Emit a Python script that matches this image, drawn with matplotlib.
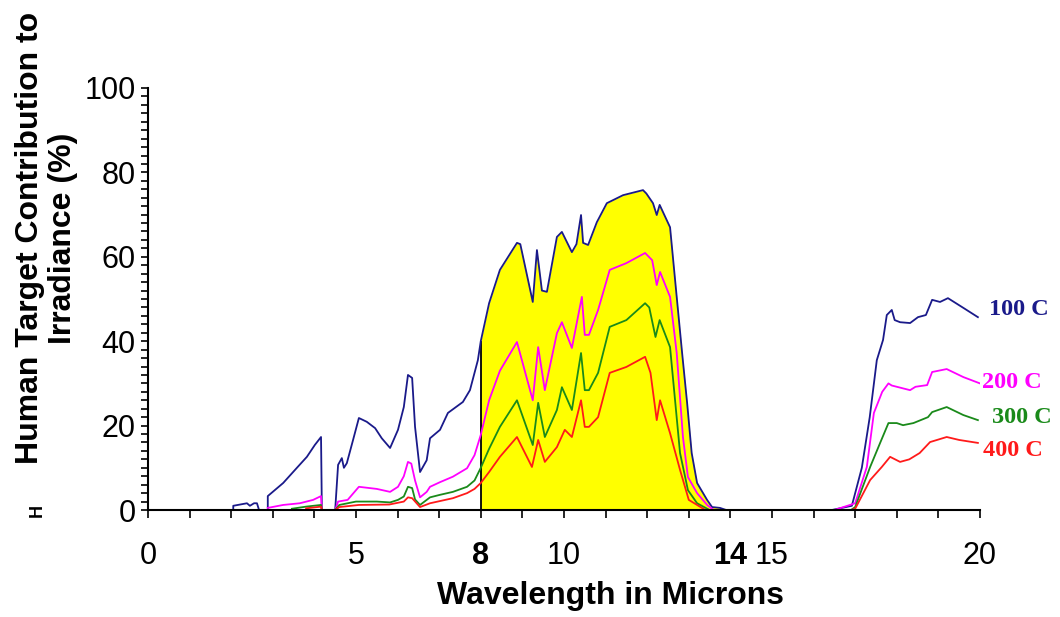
import numpy as np
import matplotlib
matplotlib.use('Agg')
import matplotlib.pyplot as plt

plt.rcParams['font.family'] = ['Liberation Sans', 'DejaVu Sans']

nan = np.nan

# 100 C target
wl_100 = [1.8, 2.05, 2.05, 2.38, 2.45, 2.55, 2.62, 2.67, nan,
          2.88, 2.88, 3.25, 3.58, 3.82, 4.01, 4.16, 4.18, nan,
          4.5, 4.57, 4.66, 4.71, 4.78, 4.93, 5.07, 5.26, 5.46, 5.62, 5.82, 6.01, 6.15, 6.25, 6.35, 6.42,
          6.54, 6.7, 6.78, 7.02, 7.21, 7.57, 7.74, 7.93, 8.0,
          8.2, 8.46, 8.87, 8.95, 9.25, 9.35, 9.47, 9.59, 9.83, 9.95, 10.19, 10.3, 10.41, 10.46, 10.58,
          10.79, 11.03, 11.42, 11.9, 11.98, 12.14, 12.23, 12.3, 12.55, 12.71, 12.84, 12.96, 13.07,
          13.2, 13.44, 13.56, 13.75, 13.9, nan,
          16.44, 16.92, 17.16, 17.35, 17.52, 17.67, 17.76, 17.88, 17.95, 18.08, 18.32, 18.51, 18.7,
          18.85, 19.04, 19.23, 19.6, 19.95]
irr_100 = [0, 0, 1.0, 1.6, 1.0, 1.6, 1.6, 0, nan,
           0, 3.3, 6.4, 10.0, 12.6, 15.4, 17.3, 0, nan,
           0, 10.7, 12.3, 10.0, 11.1, 16.6, 21.8, 20.9, 19.4, 17.0, 14.7, 19.0, 24.4, 32.0, 31.3, 19.7,
           9.0, 11.8, 17.0, 19.0, 23.0, 25.6, 28.4, 35.5, 40.0,
           49.0, 56.9, 63.3, 63.0, 49.3, 61.6, 52.0, 51.7, 64.7, 65.9, 61.1, 63.0, 69.9, 63.3, 62.8,
           68.2, 72.7, 74.6, 75.8, 75.0, 72.7, 69.9, 72.3, 67.0, 50.5, 37.2, 25.4, 13.5,
           6.4, 2.4, 0.7, 0.5, 0, nan,
           0, 1.0, 10.0, 22.0, 35.5, 40.3, 46.2, 47.4, 45.0, 44.5, 44.3, 45.7, 46.2,
           49.8, 49.3, 50.2, 47.9, 45.7]

# 200 C target
wl_200 = [2.88, 3.25, 3.65, 3.97, 4.16, 4.18, nan,
          4.5, 4.57, 4.8, 5.07, 5.5, 5.82, 6.01, 6.15, 6.25, 6.33, 6.42, 6.54, 6.7, 6.78, 7.02,
          7.33, 7.67, 7.85, 8.0,
          8.2, 8.46, 8.87, 9.25, 9.38, 9.54, 9.83, 9.95, 10.19, 10.43, 10.5, 10.6, 10.82, 11.1, 11.5,
          11.95, 12.12, 12.23, 12.31, 12.55, 12.71, 12.86, 12.98, 13.2, 13.44, 13.6, nan,
          16.5, 17.0, 17.28, 17.45, 17.65, 17.8, 17.88, 18.08, 18.32, 18.45, 18.73, 18.85, 19.2,
          19.6, 20.0]
irr_200 = [0.5, 1.2, 1.6, 2.4, 3.3, 0, nan,
           0, 2.0, 2.4, 5.5, 5.0, 4.3, 5.5, 8.0, 11.4, 11.0, 7.0, 3.0, 4.3, 5.5, 6.6,
           7.9, 9.9, 13.0, 17.8,
           26.0, 33.0, 39.8, 26.0, 38.6, 28.4, 41.9, 44.5, 38.4, 50.5, 41.5, 41.5, 47.4, 56.9, 58.5,
           60.9, 59.2, 53.3, 56.4, 50.5, 37.2, 17.3, 7.8, 4.0, 1.2, 0, nan,
           0, 1.6, 10.2, 23.0, 28.0, 30.0, 29.5, 29.0, 28.4, 29.2, 29.6, 32.7, 33.4,
           31.5, 30.0]

# 300 C target
wl_300 = [3.46, 3.8, 4.16, 4.18, nan,
          4.5, 4.6, 5.0, 5.5, 5.82, 6.01, 6.15, 6.25, 6.35, 6.42, 6.54, 6.78, 7.02, 7.33, 7.67,
          7.85, 8.0,
          8.2, 8.46, 8.87, 9.25, 9.38, 9.54, 9.83, 9.95, 10.19, 10.41, 10.5, 10.6, 10.82, 11.1, 11.5,
          11.95, 12.05, 12.2, 12.3, 12.55, 12.79, 12.98, 13.2, 13.5, nan,
          16.9, 17.0, 17.36, 17.6, 17.8, 18.0, 18.15, 18.4, 18.75, 18.85, 19.2, 19.6, 19.95]
irr_300 = [0.3, 0.8, 1.2, 0, nan,
           0, 1.2, 2.0, 2.0, 1.8, 2.4, 3.2, 5.5, 5.2, 2.5, 1.2, 3.0, 3.6, 4.3, 5.5,
           7.0, 10.0,
           14.5, 19.7, 26.0, 15.4, 25.4, 17.3, 23.7, 29.1, 23.7, 37.2, 28.4, 28.4, 32.5, 43.4, 45.0,
           49.0, 48.0, 41.0, 45.0, 38.6, 13.5, 4.7, 1.6, 0, nan,
           0, 0.7, 10.2, 15.9, 20.6, 20.6, 20.1, 20.6, 22.0, 23.2, 24.4, 22.5, 21.3]

# 400 C target
wl_400 = [3.8, 4.16, 4.18, nan,
          4.5, 4.6, 5.07, 5.8, 6.15, 6.25, 6.35, 6.54, 6.78, 7.33, 7.67, 7.85, 8.0,
          8.2, 8.46, 8.87, 9.23, 9.38, 9.54, 9.83, 10.02, 10.19, 10.41, 10.5, 10.6, 10.82, 11.1,
          11.5, 11.95, 12.08, 12.23, 12.31, 12.55, 12.79, 13.0, 13.4, nan,
          16.9, 17.0, 17.36, 17.64, 17.84, 18.08, 18.3, 18.55, 18.8, 19.2, 19.5, 19.95]
irr_400 = [0.4, 0.8, 0, nan,
           0, 0.7, 1.2, 1.3, 2.0, 3.0, 2.8, 0.7, 1.6, 2.8, 4.0, 5.0, 6.4,
           9.0, 12.6, 17.3, 10.2, 16.6, 11.4, 14.9, 19.0, 17.3, 26.0, 19.7, 19.7, 22.0, 32.5,
           33.9, 36.3, 32.5, 21.3, 26.0, 18.2, 9.5, 2.4, 0, nan,
           0, 0.3, 7.1, 10.2, 12.6, 11.4, 12.0, 13.5, 16.1, 17.3, 16.6, 15.9]

series_labels = ['100 C', '200 C', '300 C', '400 C']
series_colors = ['#1a1a8a', '#ff00ff', '#1a8a1a', '#ff1a1a']
label_pos = [(20.22, 47.6), (20.05, 30.3), (20.29, 22.0), (20.07, 14.2)]

band_lo = 8.0

xtick_vals = [0, 5, 8, 10, 14, 15, 20]
ytick_vals = [0, 20, 40, 60, 80, 100]

fig = plt.figure(figsize=(10.6, 6.17), dpi=100)
ax = fig.add_axes([0.1396, 0.1734, 0.7849, 0.684])

# yellow band under the 100 C curve, from 8 microns to where it dies out
w = np.array(wl_100, dtype=float)
r = np.array(irr_100, dtype=float)
band = (w >= band_lo) & (w <= 13.9)
ax.fill_between(w[band], 0, r[band], color='#ffff00', lw=0, zorder=1)
ax.vlines(band_lo, 0, r[band][0], color='black', lw=1.3, zorder=2)

for wl, irr, c in zip([wl_100, wl_200, wl_300, wl_400],
                      [irr_100, irr_200, irr_300, irr_400], series_colors):
    ax.plot(wl, irr, color=c, lw=1.3, zorder=3)

for (lx, ly), lab, c in zip(label_pos, series_labels, series_colors):
    ax.text(lx, ly, lab, color=c, fontsize=17.5, fontweight='bold',
            family=['Liberation Serif', 'DejaVu Serif'], ha='left', va='center', clip_on=False)

ax.set_xlim(0, 20)
ax.set_ylim(0, 100)
for s in ['top', 'right']:
    ax.spines[s].set_visible(False)
for s in ['left', 'bottom']:
    ax.spines[s].set_linewidth(1.5)
    ax.spines[s].set_zorder(4)

ax.set_xticks(xtick_vals)
ax.set_xticks(range(0, 21), minor=True)
ax.set_yticks(ytick_vals)
ax.set_yticks(range(0, 101, 2), minor=True)
ax.tick_params(axis='x', which='both', direction='out', length=6, width=1.2, pad=16, labelsize=22)
ax.tick_params(axis='y', which='both', direction='out', length=5, width=1.2, pad=4, labelsize=22)
for lab in ax.get_xticklabels():
    if lab.get_text() in ('8', '14'):
        lab.set_fontweight('bold')

fig.text(0.5755, 0.034, 'Wavelength in Microns', fontsize=23, fontweight='bold',
         ha='center', va='center')
fig.text(0.044, 0.614, 'Human Target Contribution to\nIrradiance (%)', fontsize=23,
         fontweight='bold', rotation=90, ha='center', va='center', multialignment='center',
         linespacing=1.12)
fig.text(0.035, 0.173, 'H', fontsize=13, fontweight='bold', rotation=90, ha='center', va='center')

fig.savefig('out.png', dpi=100)
